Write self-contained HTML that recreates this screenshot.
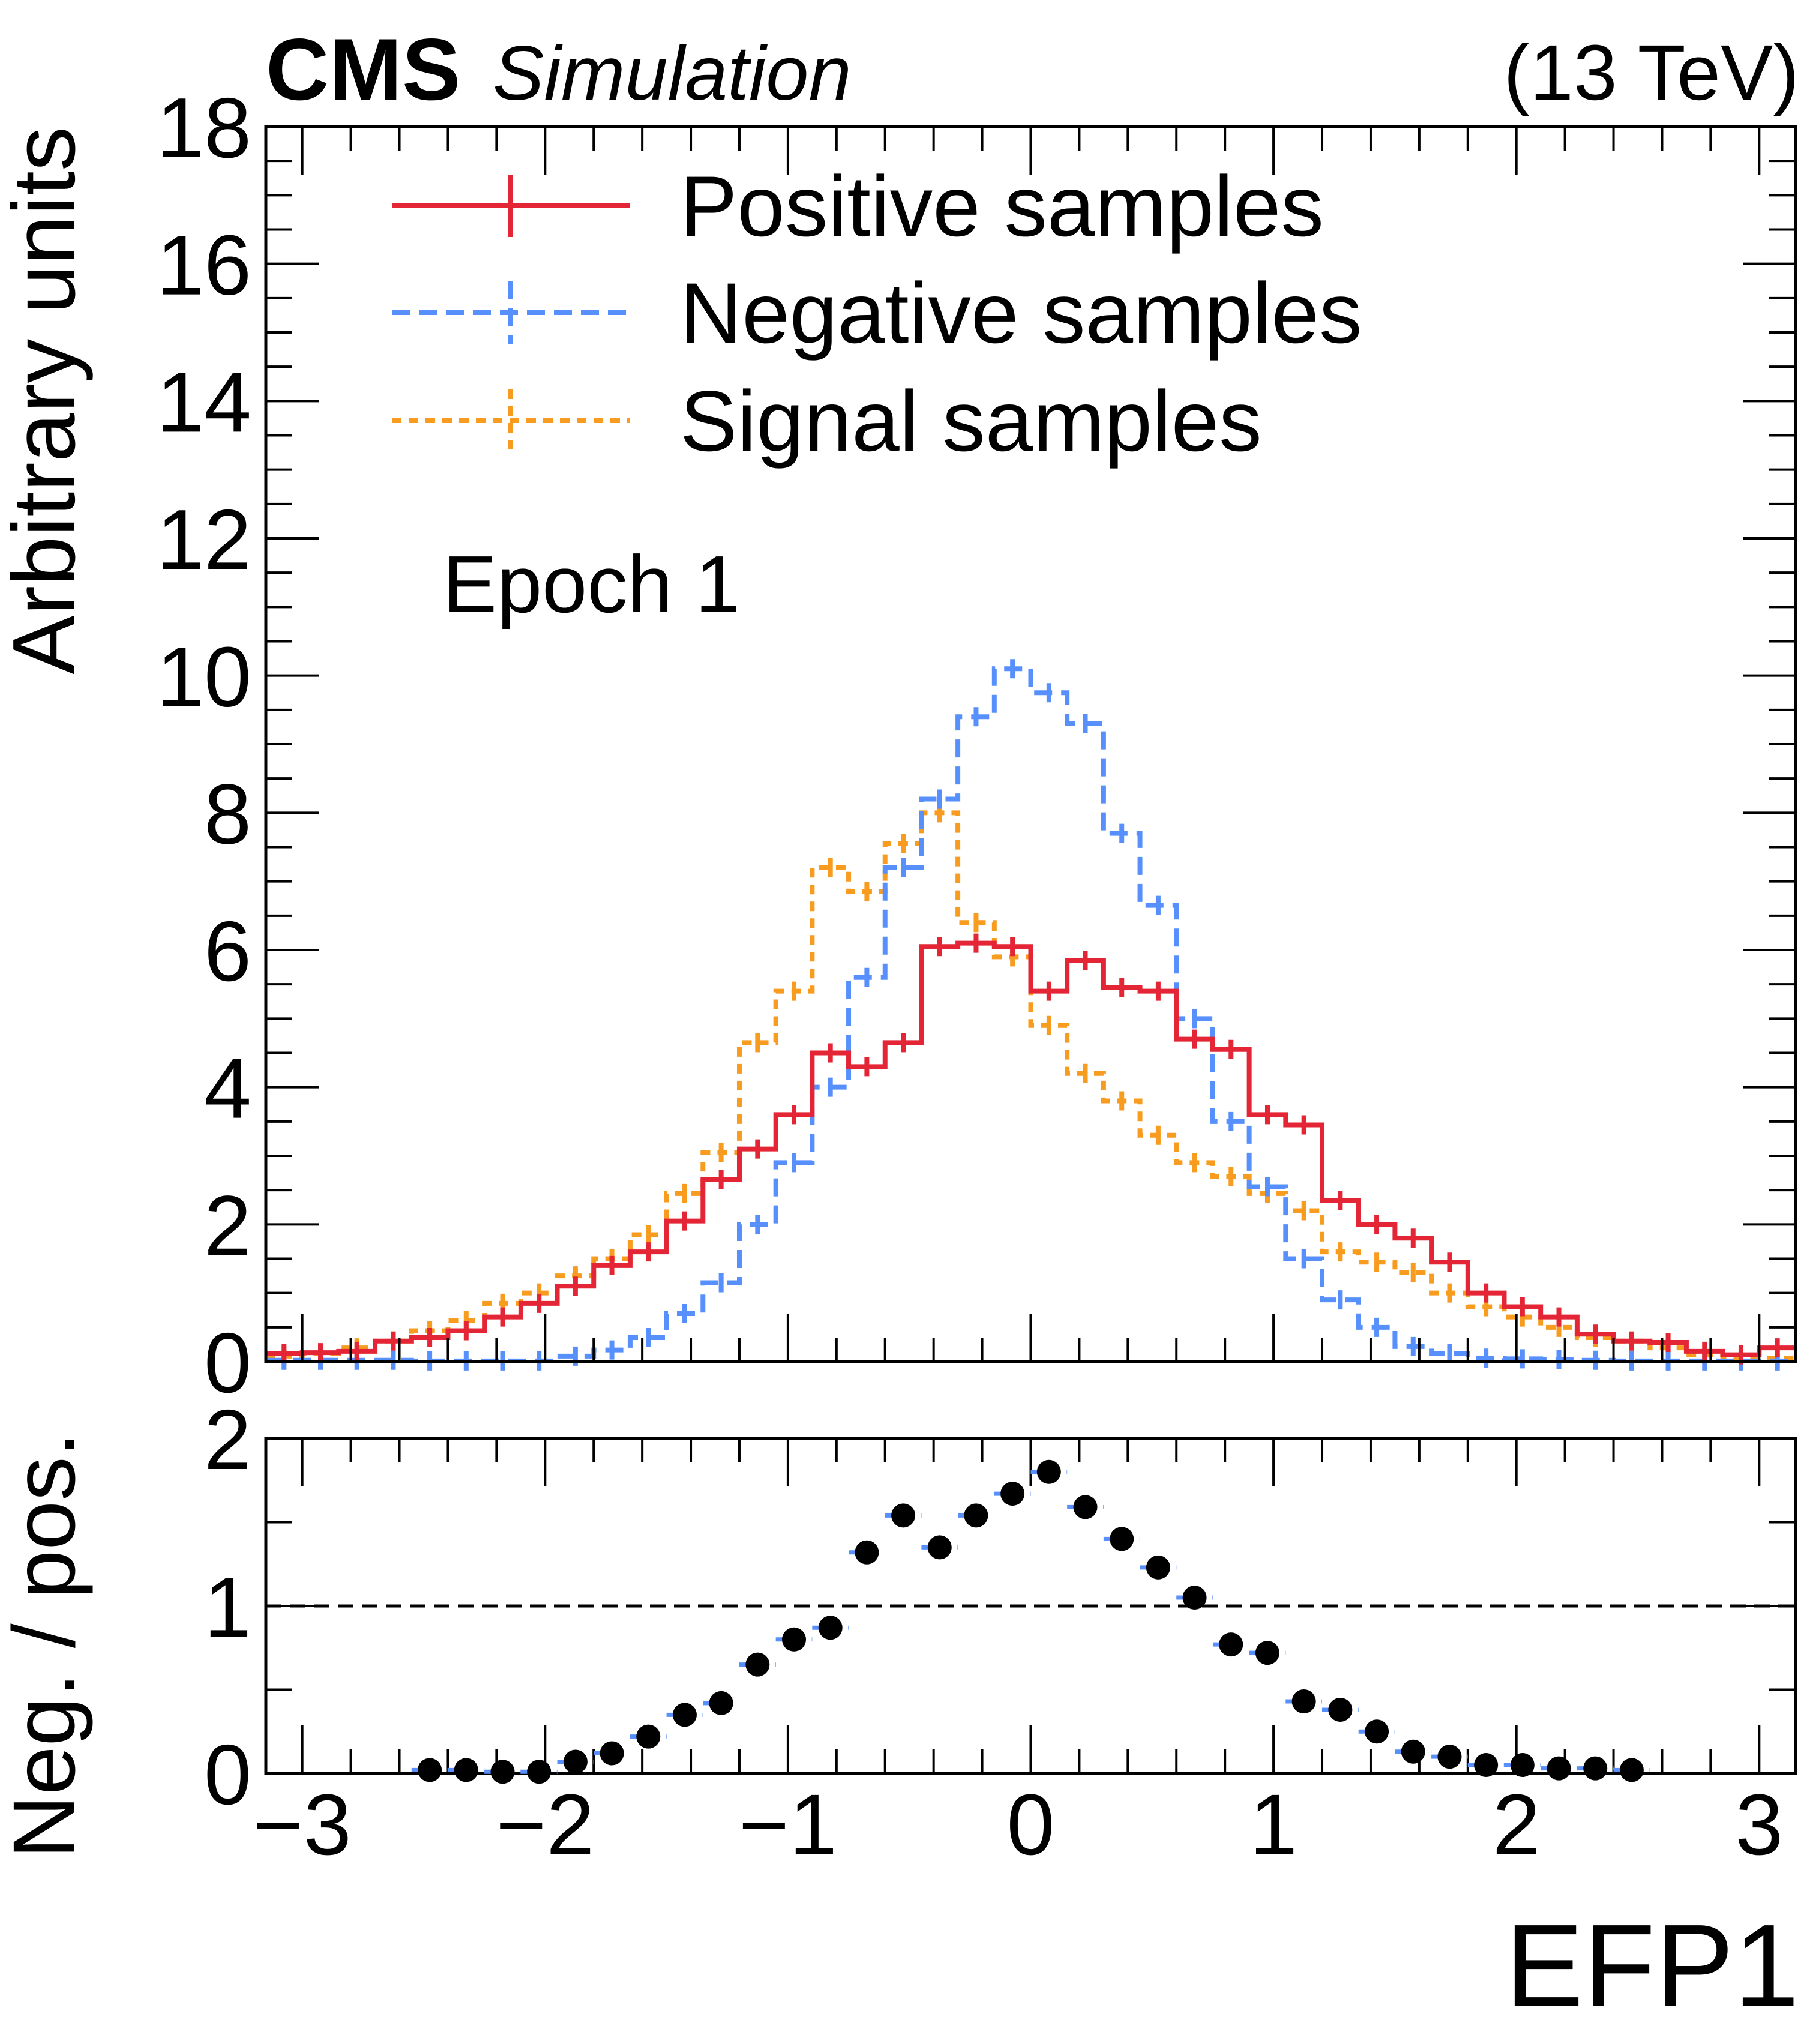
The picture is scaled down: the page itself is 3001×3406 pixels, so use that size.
<!DOCTYPE html>
<html><head><meta charset="utf-8">
<style>
html,body{margin:0;padding:0;background:#fff;}
svg{display:block;}
text{font-family:"Liberation Sans","DejaVu Sans",sans-serif;fill:#000;}
</style></head>
<body>
<svg id="chart" width="3001" height="3406" viewBox="0 0 3001 3406" xmlns="http://www.w3.org/2000/svg">
<rect x="0" y="0" width="3001" height="3406" fill="#fff"/>
<g id="main"></g>
<g id="ratio"></g>
<text x="443" y="166" font-size="146" font-weight="bold">CMS</text>
<text x="821" y="166" font-size="128" font-style="italic">Simulation</text>
<text x="2998" y="166" font-size="131" text-anchor="end">(13 TeV)</text>
<text transform="translate(124,211) rotate(-90)" font-size="148" text-anchor="end">Arbitrary units</text>
<text transform="translate(124,2742) rotate(-90)" font-size="147" text-anchor="middle">Neg. / pos.</text>
<text x="2998" y="3343" font-size="196" text-anchor="end">EFP1</text>
<text x="738" y="1020" font-size="135">Epoch 1</text>
<g id="legend"></g>
</svg>
<script>
const binLo = -3.15, binW = 0.15;
const positive = [0.12,0.13,0.15,0.3,0.35,0.45,0.65,0.85,1.1,1.4,1.6,2.05,2.65,3.1,3.6,4.5,4.3,4.65,6.05,6.1,6.05,5.4,5.85,5.45,5.4,4.7,4.55,3.6,3.45,2.35,2.0,1.8,1.45,1.0,0.8,0.65,0.4,0.3,0.28,0.15,0.1,0.2];
const negative = [0.02,0.02,0.02,0.02,0.01,0.01,0.01,0.01,0.08,0.17,0.35,0.7,1.15,2.0,2.9,4.0,5.6,7.2,8.2,9.4,10.1,9.75,9.3,7.7,6.65,5.0,3.5,2.55,1.5,0.9,0.5,0.22,0.12,0.05,0.04,0.03,0.02,0.01,0.01,0.01,0.01,0.01];
const signal = [0.08,0.12,0.2,0.3,0.45,0.6,0.85,1.0,1.25,1.5,1.85,2.45,3.05,4.65,5.4,7.2,6.85,7.55,8.0,6.4,5.9,4.9,4.2,3.8,3.3,2.9,2.7,2.45,2.2,1.6,1.45,1.3,1.0,0.8,0.65,0.5,0.35,0.3,0.2,0.1,0.05,0.05];
const ratioBins = [4,5,6,7,8,9,10,11,12,13,14,15,16,17,18,19,20,21,22,23,24,25,26,27,28,29,30,31,32,33,34,35,36,37];
const ratioVals = [0.02,0.02,0.01,0.01,0.07,0.12,0.22,0.35,0.42,0.65,0.8,0.87,1.32,1.54,1.35,1.54,1.67,1.8,1.59,1.4,1.23,1.05,0.77,0.72,0.43,0.38,0.25,0.13,0.1,0.05,0.05,0.03,0.03,0.02];
const xTicks = [-3,-2,-1,0,1,2,3];
const xTickLabels = ["\u22123","\u22122","\u22121","0","1","2","3"];
const yTicks = [0,2,4,6,8,10,12,14,16,18];
const rTicks = [0,1,2];

const NS="http://www.w3.org/2000/svg";
const L=443,R=2992,T=211,B=2269,RT=2397,RB=2955;
const xMin=-3.15,xMax=3.15;
const X=v=>L+(v-xMin)/(xMax-xMin)*(R-L);
const Y=v=>B-v/18*(B-T);
const RY=v=>RB-v/2*(RB-RT);
function mk(tag,attrs,parent){const e=document.createElementNS(NS,tag);for(const k in attrs)e.setAttribute(k,attrs[k]);parent.appendChild(e);return e;}
const main=document.getElementById('main'), ratio=document.getElementById('ratio'), leg=document.getElementById('legend');

function hist(vals,color,dash,name){
  let d='';
  for(let i=0;i<vals.length;i++){
    const x0=X(binLo+i*binW),x1=X(binLo+(i+1)*binW),y=Y(vals[i]);
    d+=(i===0?'M'+x0+','+y:'L'+x0+','+y)+'L'+x1+','+y;
  }
  const p=mk('path',{d:d,fill:'none',stroke:color,'stroke-width':8,'stroke-dasharray':dash},main);
  
  
  for(let i=0;i<vals.length;i++){
    const xc=X(binLo+(i+0.5)*binW),y=Y(vals[i]);
    const e=mk('line',{x1:xc,x2:xc,y1:y-16,y2:y+16,stroke:color,'stroke-width':8},main);
    
    
  }
}
hist(signal,'#f89c20','16,12','signal');
hist(negative,'#5790fc','30,15','negative');
hist(positive,'#e42536','','positive');

const f1=mk('rect',{x:L,y:T,width:R-L,height:B-T,fill:'none',stroke:'#000','stroke-width':5},main);

const f2=mk('rect',{x:L,y:RT,width:R-L,height:RB-RT,fill:'none',stroke:'#000','stroke-width':5},ratio);


function xticks(top,bot,g,maj,mi){
  for(let k=-15;k<=15;k++){
    const v=k*0.2; if(v<xMin||v>xMax)continue;
    const major=Math.abs(v-Math.round(v))<1e-6;
    const len=major?maj:mi;
    const a=mk('line',{x1:X(v),x2:X(v),y1:bot,y2:bot-len,stroke:'#000','stroke-width':4},g);
    
    const b=mk('line',{x1:X(v),x2:X(v),y1:top,y2:top+len,stroke:'#000','stroke-width':4},g);
    
  }
}
xticks(T,B,main,80,40);
xticks(RT,RB,ratio,80,40);
xTicks.forEach((v,i)=>{
  const t=mk('text',{x:X(v),y:3090,'font-size':144,'text-anchor':'middle'},ratio);
  t.textContent=xTickLabels[i];
  
});
for(let v=0;v<=18.001;v+=0.5){
  const major=Math.abs(v/2-Math.round(v/2))<1e-6;
  const len=major?88:44;
  const a=mk('line',{x1:L,x2:L+len,y1:Y(v),y2:Y(v),stroke:'#000','stroke-width':4},main);
  
  const b=mk('line',{x1:R,x2:R-len,y1:Y(v),y2:Y(v),stroke:'#000','stroke-width':4},main);
  
}
yTicks.forEach(v=>{
  const t=mk('text',{x:419,y:Y(v)+51,'font-size':142,'text-anchor':'end'},main);
  t.textContent=String(v);
  
});
for(let v=0;v<=2.001;v+=0.5){
  const major=Math.abs(v-Math.round(v))<1e-6;
  const len=major?88:44;
  const a=mk('line',{x1:L,x2:L+len,y1:RY(v),y2:RY(v),stroke:'#000','stroke-width':4},ratio);
  
  const b=mk('line',{x1:R,x2:R-len,y1:RY(v),y2:RY(v),stroke:'#000','stroke-width':4},ratio);
  
}
rTicks.forEach(v=>{
  const t=mk('text',{x:419,y:RY(v)+51,'font-size':142,'text-anchor':'end'},ratio);
  t.textContent=String(v);
  
});
const ul=mk('line',{x1:L,x2:R,y1:RY(1),y2:RY(1),stroke:'#000','stroke-width':5,'stroke-dasharray':'26,14'},ratio);

ratioBins.forEach((b,i)=>{
  const x0=X(binLo+b*binW),x1=X(binLo+(b+1)*binW),xc=(x0+x1)/2,y=RY(ratioVals[i]);
  const e=mk('line',{x1:x0,x2:x1,y1:y,y2:y,stroke:'#5790fc','stroke-width':7,'stroke-dasharray':'20,10'},ratio);
  
  const c=mk('circle',{cx:xc,cy:y,r:20,fill:'#000'},ratio);
  
});
const legItems=[["Positive samples",'#e42536','',343],["Negative samples",'#5790fc','30,15',521],["Signal samples",'#f89c20','16,12',701]];
legItems.forEach(it=>{
  const g=mk('g',{},leg);
  
  mk('line',{x1:653,x2:1049,y1:it[3],y2:it[3],stroke:it[1],'stroke-width':8,'stroke-dasharray':it[2]},g);
  mk('line',{x1:851,x2:851,y1:it[3]-52,y2:it[3]+52,stroke:it[1],'stroke-width':8,'stroke-dasharray':it[2]},g);
  const t=mk('text',{x:1133,y:it[3]+50,'font-size':143},g);
  t.textContent=it[0];
});
</script>
</body></html>
